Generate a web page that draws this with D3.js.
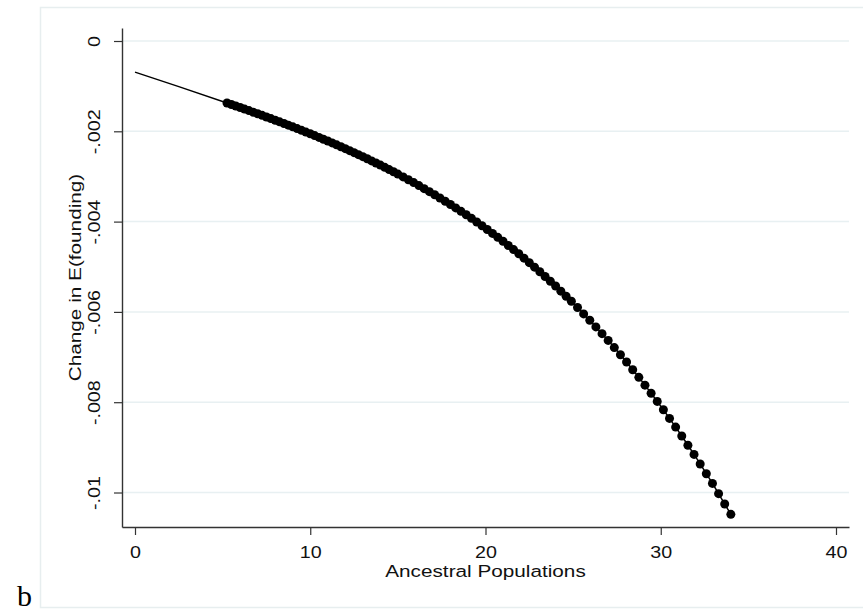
<!DOCTYPE html>
<html>
<head>
<meta charset="utf-8">
<script src="https://cdn.jsdelivr.net/npm/d3@7"></script>
<style>
  body { margin: 0; background: #fff; }
  svg { display: block; }
</style>
</head>
<body>
<div id="chart"></div>
<script>
var width = 863,
  height = 611,
  margin = {top: 28, right: 14, bottom: 84, left: 122};

// predicted change at each observed number of ancestral populations
var popX = [5.25, 5.5, 5.75, 6, 6.25, 6.5, 6.75, 7, 7.25, 7.5, 7.75, 8, 8.25, 8.5, 8.75, 9,
  9.25, 9.5, 9.75, 10, 10.25, 10.5, 10.75, 11, 11.25, 11.5, 11.75, 12, 12.25, 12.5, 12.75, 13,
  13.25, 13.5, 13.75, 14, 14.25, 14.5, 14.75, 15,
  15.3, 15.6, 15.9, 16.2, 16.5, 16.8, 17.1, 17.4, 17.7, 18, 18.3, 18.6, 18.9, 19.2, 19.5, 19.8,
  20.1, 20.4, 20.7, 21, 21.3, 21.6, 21.9, 22.2, 22.5, 22.8, 23.1, 23.4, 23.7, 24, 24.3, 24.6, 24.9,
  25.25, 25.6, 25.95, 26.3, 26.65, 27, 27.35, 27.7, 28.05, 28.4, 28.75, 29.1, 29.45, 29.8,
  30.15, 30.5, 30.85, 31.2, 31.55, 31.9, 32.25, 32.6, 32.95, 33.3, 33.65, 34];

var changeY = [-0.001372, -0.001406, -0.001439, -0.001473, -0.001508, -0.001542, -0.001577, -0.001611,
  -0.001647, -0.001683, -0.001718, -0.001754, -0.001791, -0.001828, -0.001864, -0.001901,
  -0.001940, -0.001978, -0.002017, -0.002055, -0.002095, -0.002135, -0.002175, -0.002215,
  -0.002257, -0.002300, -0.002342, -0.002384, -0.002428, -0.002473, -0.002517, -0.002561,
  -0.002608, -0.002655, -0.002701, -0.002748, -0.002798, -0.002848, -0.002897, -0.002947,
  -0.003010, -0.003073, -0.003136, -0.003202, -0.003270, -0.003337, -0.003406, -0.003477, -0.003549,
  -0.003620, -0.003696, -0.003772, -0.003849, -0.003928, -0.004010, -0.004092,
  -0.004175, -0.004262, -0.004348, -0.004435, -0.004528, -0.004620, -0.004713, -0.004810, -0.004910,
  -0.005009, -0.005110, -0.005216, -0.005321, -0.005427, -0.005540, -0.005653, -0.005765,
  -0.005903, -0.006044, -0.006184, -0.006332, -0.006482, -0.006631, -0.006790, -0.006950,
  -0.007110, -0.007280, -0.007449, -0.007622, -0.007802, -0.007982,
  -0.008167, -0.008359, -0.008551, -0.008749, -0.008953, -0.009156, -0.009368, -0.009584, -0.009799,
  -0.010026, -0.010255, -0.010483];

// fitted line continues back to zero populations
var lineStartX = [0, 2.5];
var lineStartY = [-0.00069, -0.00101];

var xTicks = [0, 10, 20, 30, 40];
var yTicks = [0, -0.002, -0.004, -0.006, -0.008, -0.01];

var xTitle = "Ancestral Populations",
  yTitle = "Change in E(founding)",
  panelLabel = "b";

var points = popX.map(function(d, i) { return {x: d, y: changeY[i]}; });
var linePts = lineStartX.map(function(d, i) { return {x: d, y: lineStartY[i]}; }).concat(points);

var svg = d3.select("#chart").append("svg")
  .attr("width", width)
  .attr("height", height);

// outer graph region frame
svg.append("rect")
  .attr("x", 40.5)
  .attr("y", 7.5)
  .attr("width", 840)
  .attr("height", 600)
  .style("fill", "#fff")
  .style("stroke", "#e7eeef")
  .style("stroke-width", 1.5);

var x = d3.scaleLinear()
  .domain([-0.742, 40.742])
  .range([margin.left, width - margin.right]);

var y = d3.scaleLinear()
  .domain([-0.010764, 0.000288])
  .range([height - margin.bottom, margin.top]);

// horizontal grid
svg.append("g")
  .selectAll("line")
  .data(yTicks)
  .enter().append("line")
  .attr("x1", margin.left)
  .attr("x2", width - margin.right)
  .attr("y1", function(d) { return y(d); })
  .attr("y2", function(d) { return y(d); })
  .style("stroke", "#e8f0f2")
  .style("stroke-width", 1.5);

var fmt = function(d) {
  if (d === 0) return "0";
  return String(+d.toFixed(3)).replace("0.", ".");
};

var xAxis = svg.append("g")
  .attr("transform", "translate(0," + (height - margin.bottom) + ")")
  .call(d3.axisBottom(x).tickValues(xTicks).tickSize(8).tickSizeOuter(0));

var yAxis = svg.append("g")
  .attr("transform", "translate(" + margin.left + ",0)")
  .call(d3.axisLeft(y).tickValues(yTicks).tickFormat(fmt).tickSize(8).tickSizeOuter(0));

[xAxis, yAxis].forEach(function(ax) {
  ax.select(".domain").style("stroke", "#333").style("stroke-width", 1.4);
  ax.selectAll(".tick line").style("stroke", "#333").style("stroke-width", 1.2);
  ax.selectAll("text")
    .style("font-family", "'Liberation Sans', Arial, sans-serif")
    .style("font-size", "16px")
    .style("fill", "#111");
});

xAxis.selectAll("text")
  .attr("y", 31)
  .attr("dy", 0)
  .attr("transform", "scale(1.23,1)");

yAxis.selectAll("text")
  .attr("x", 0)
  .attr("y", 0)
  .attr("dy", 0)
  .attr("text-anchor", "middle")
  .attr("transform", "translate(-22,0) rotate(-90) scale(1.23,1)");

// axis titles
svg.append("text")
  .attr("transform", "translate(" + ((margin.left + width - margin.right) / 2) + ",577) scale(1.22,1)")
  .attr("text-anchor", "middle")
  .style("font", "17px 'Liberation Sans', Arial, sans-serif")
  .style("fill", "#111")
  .text(xTitle);

svg.append("text")
  .attr("transform", "translate(81," + ((margin.top + height - margin.bottom) / 2) + ") rotate(-90) scale(1.22,1)")
  .attr("text-anchor", "middle")
  .style("font", "17px 'Liberation Sans', Arial, sans-serif")
  .style("fill", "#111")
  .text(yTitle);

// fitted line
var line = d3.line()
  .x(function(d) { return x(d.x); })
  .y(function(d) { return y(d.y); });

svg.append("path")
  .datum(linePts)
  .attr("d", line)
  .style("fill", "none")
  .style("stroke", "#000")
  .style("stroke-width", 1.5);

// markers
svg.append("g")
  .selectAll("circle")
  .data(points)
  .enter().append("circle")
  .attr("cx", function(d) { return x(d.x); })
  .attr("cy", function(d) { return y(d.y); })
  .attr("r", 4.5)
  .style("fill", "#000");

svg.append("text")
  .attr("x", 17)
  .attr("y", 606)
  .style("font", "30px 'Liberation Serif', 'Times New Roman', serif")
  .style("fill", "#000")
  .text(panelLabel);
</script>
</body>
</html>
